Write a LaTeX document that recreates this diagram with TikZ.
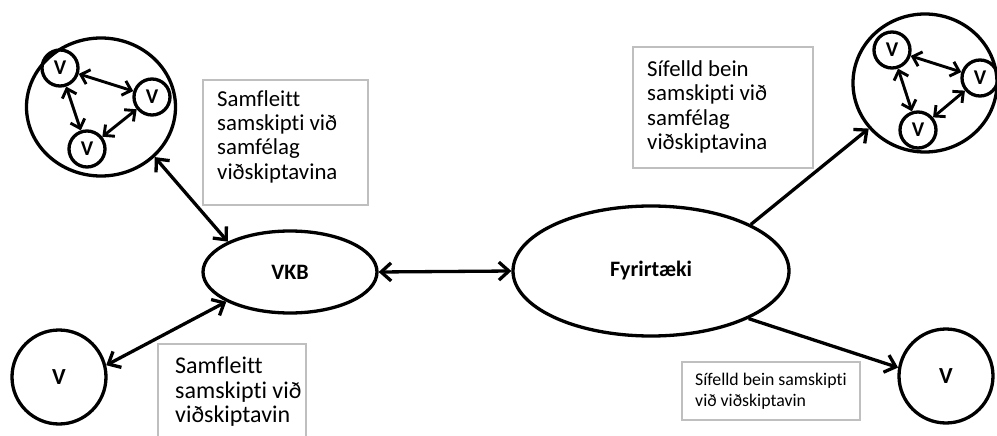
\documentclass[tikz,border=0pt]{standalone}
\usepackage{fontspec}
\setmainfont{Carlito}[Ligatures=CommonOff]
\usetikzlibrary{arrows.meta,shapes.geometric}
\begin{document}
\begin{tikzpicture}[x=1pt,y=-1pt,
  outline/.style={draw=black, line width=3.3pt},
  bigshape/.style={outline, ellipse, inner sep=0pt, font=\fontsize{22}{26}\selectfont\bfseries},
  vsmall/.style={outline, circle, minimum size=36pt, inner sep=0pt, font=\fontsize{21}{24}\selectfont\bfseries},
  vbig/.style={outline, circle, minimum size=94pt, inner sep=0pt, font=\fontsize{23}{26}\selectfont\bfseries},
  barb/.tip={Straight Barb[length=10pt,width=18pt]},
  sbarb/.tip={Straight Barb[length=8pt,width=15pt]},
  both/.style={line width=3.3pt, barb-barb},
  one/.style={line width=3.3pt, -barb},
  inner/.style={line width=2.9pt, sbarb-sbarb},
  notebox/.style={draw=black!25, line width=1.2pt, inner sep=0pt},
  notetext/.style={anchor=north west, inner sep=0pt, align=left}
]
\useasboundingbox (0,0) rectangle (997,436);

% comment boxes
\draw[notebox] (203,80) rectangle (368,205);
\draw[notebox] (633,47) rectangle (813,168);
\draw[notebox] (158,344) rectangle (306,440);
\draw[notebox] (682,362) rectangle (860,420);
\node[notetext, font=\fontsize{22.8}{24.4}\selectfont] (t1) at (217,90)
  {Samfleitt\\samskipti við\\samfélag\\viðskiptavina};
\node[notetext, font=\fontsize{22.8}{24.5}\selectfont] (t2) at (647,60)
  {Sífelld bein\\samskipti við\\samfélag\\viðskiptavina};
\node[notetext, font=\fontsize{24}{24.5}\selectfont] (t3) at (175,357)
  {Samfleitt\\samskipti við\\viðskiptavin};
\node[notetext, font=\fontsize{17.8}{20.5}\selectfont] (t4) at (695,373)
  {Sífelld bein samskipti\\við viðskiptavin};

% main ellipses
\node[bigshape, minimum width=174pt, minimum height=82pt] (vkb) at (290,272) {VKB};
\node[bigshape, minimum width=276pt, minimum height=130pt] (fyr) at (651,271) {Fyrirtæki};

% customer community, left
\node[outline, ellipse, minimum width=149pt, minimum height=138pt] (grpL) at (101,107) {};
\node[vsmall] (a1) at (60,68) {V};
\node[vsmall] (a2) at (152,97) {V};
\node[vsmall] (a3) at (87,149) {V};
\draw[inner] (a1) -- (a2);
\draw[inner] (a1) -- (a3);
\draw[inner] (a3) -- (a2);

% customer community, right
\node[outline, ellipse, minimum width=144pt, minimum height=138pt] (grpR) at (925,83) {};
\node[vsmall] (b1) at (892,50) {V};
\node[vsmall] (b2) at (980,78) {V};
\node[vsmall] (b3) at (918,130) {V};
\draw[inner] (b1) -- (b2);
\draw[inner] (b1) -- (b3);
\draw[inner] (b3) -- (b2);

% single customers
\node[vbig] (vL) at (59,377) {V};
\node[vbig] (vR) at (946,376) {V};

% connectors
\draw[both] (grpL.-43) -- (vkb.154);
\draw[both] (vL.14) -- (vkb.205);
\draw[both] (vkb.east) -- (fyr.west);
\draw[one] (fyr.25) -- (grpR.219);
\draw[one] (fyr.-26) -- (vR.170);
\end{tikzpicture}
\end{document}
